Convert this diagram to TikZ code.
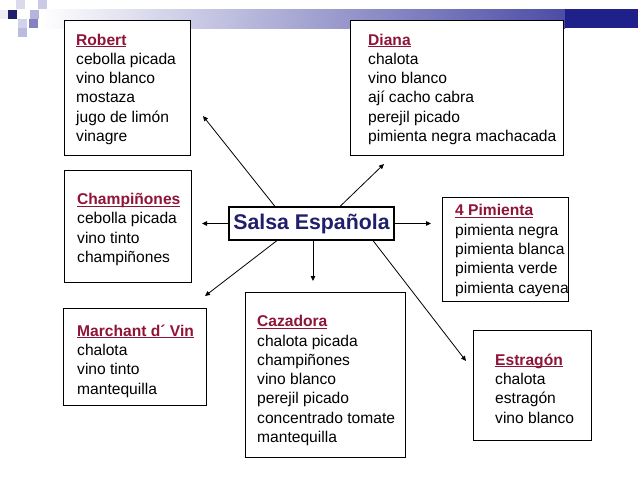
\documentclass[tikz,border=0pt]{standalone}
\usepackage{fontspec}
\setmainfont{Liberation Sans}
\usepackage{tikz}
\usepackage{xcolor}
\usetikzlibrary{arrows.meta, positioning, calc}
\definecolor{SauceNavy}{HTML}{1F1F6B}
\definecolor{HeadMaroon}{HTML}{8E1538}
\definecolor{BarLilac}{HTML}{B4B4DC}
\definecolor{BarBlue}{HTML}{4C4CA6}
\definecolor{BarNavy}{HTML}{20208A}

\newcommand\salsahead[1]{\textbf{\color{HeadMaroon}\setbox0=\hbox{#1}\rlap{\rule[-2.2pt]{\wd0}{1.3pt}}\box0}}

\tikzset{
    recipebox/.style={draw=black, line width=1.1pt, fill=white, inner sep=0pt, anchor=north west},
    recipetext/.style={align=left, inner sep=0pt, anchor=base west, font=\fontsize{15.6}{19.3}\selectfont},
    sauce/.style={draw=black, line width=1.1pt, fill=white, minimum width=165, minimum height=33, inner sep=0pt, font=\fontsize{21.3}{26}\selectfont\bfseries, text=SauceNavy},
    spoke/.style={-{Triangle[length=5pt,width=4.5pt]}, line width=0.8pt}
}

\begin{document}
\begin{tikzpicture}[x=1pt, y=-1pt]
    \useasboundingbox (0,0) rectangle (638,479);
    % template bar and squares at the top
    \shade[left color=white, right color=BarBlue] (40,9) rectangle (565,28);
    \fill[BarNavy] (565,9) rectangle (638,28);
    \foreach \x/\y/\c in {0/10/SauceNavy!8, 16/0/BarLilac!50, 38/0/BarLilac!70, 8/10/SauceNavy, 30/10/BarLilac, 18/19/BarLilac!60, 29/19/BarBlue!70, 18/28/BarLilac!90} {
        \fill[\c] (\x,\y) rectangle ++(8.5,8.5);
    }

    % recipe boxes
    \foreach \n/\x/\y/\w/\h in {robert/64/20/126/135, diana/350/20/213/135, champi/64/170/127/112, pimienta/442/197/126/104, marchant/63/308/143/97, cazadora/245/292/160/165, estragon/473/330/118/110} {
        \node[recipebox, minimum width=\w, minimum height=\h] (\n) at (\x,\y) {};
    }

    % ingredients (anchored on the last line)
    \node[recipetext] (robertList) at (76,141.5) {\salsahead{Robert}\\cebolla picada\\vino blanco\\mostaza\\jugo de limón\\vinagre};
    \node[recipetext] (dianaList) at (368,141.5) {\salsahead{Diana}\\chalota\\vino blanco\\ají cacho cabra\\perejil picado\\pimienta negra machacada};
    \node[recipetext] (champiList) at (77,262.5) {\salsahead{Champiñones}\\cebolla picada\\vino tinto\\champiñones};
    \node[recipetext] (pimientaList) at (455,293) {\salsahead{4 Pimienta}\\pimienta negra\\pimienta blanca\\pimienta verde\\pimienta cayena};
    \node[recipetext] (marchantList) at (77,394) {\salsahead{Marchant d´ Vin}\\chalota\\vino tinto\\mantequilla};
    \node[recipetext] (cazadoraList) at (257,442.5) {\salsahead{Cazadora}\\chalota picada\\champiñones\\vino blanco\\perejil picado\\concentrado tomate\\mantequilla};
    \node[recipetext] (estragonList) at (495,423) {\salsahead{Estragón}\\chalota\\estragón\\vino blanco};

    % the mother sauce
    \node[sauce] (salsa) at (311.5,223.5) {Salsa Española};

    \coordinate (robertTip) at (203,116);
    \coordinate (dianaTip) at (384,164);
    \coordinate (champiTip) at (202,223.5);
    \coordinate (pimientaTip) at (431,223.5);
    \coordinate (cazadoraTip) at (313,281);
    \coordinate (marchantTip) at (205,296);
    \coordinate (estragonTip) at (466,361);

    \draw[spoke] ([xshift=-36.5pt]salsa.north) -- (robertTip);
    \draw[spoke] ([xshift=28.5pt]salsa.north) -- (dianaTip);
    \draw[spoke] (salsa.west) -- (champiTip);
    \draw[spoke] (salsa.east) -- (pimientaTip);
    \draw[spoke] ([xshift=1.5pt]salsa.south) -- (cazadoraTip);
    \draw[spoke] ([xshift=-34.5pt]salsa.south) -- (marchantTip);
    \draw[spoke] ([xshift=61.5pt]salsa.south) -- (estragonTip);
\end{tikzpicture}
\end{document}
